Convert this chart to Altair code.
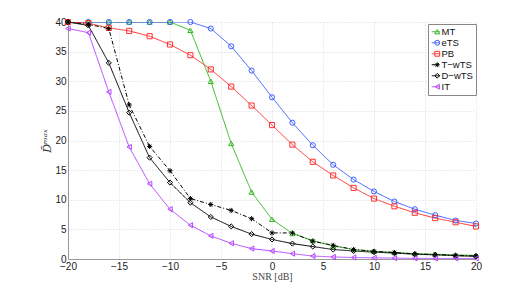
import altair as alt
import pandas as pd

snr = list(range(-20, 21, 2))
series_names = ["MT", "eTS", "PB", "T\u2212wTS", "D\u2212wTS", "IT"]
MT = [40, 40, 40, 40, 40, 40, 38.6, 30.0, 19.5, 11.3, 6.7, 4.3, 3.1, 2.2, 1.6, 1.3, 1.1, 0.9, 0.8, 0.7, 0.6]
eTS = [40, 40, 40, 40, 40, 40, 40, 38.9, 35.9, 31.8, 27.3, 23.0, 19.2, 15.9, 13.4, 11.4, 9.7, 8.4, 7.4, 6.5, 6.0]
PB = [40, 39.8, 39.0, 38.5, 37.6, 36.2, 34.4, 32.0, 29.1, 25.9, 22.6, 19.3, 16.4, 14.1, 12.0, 10.2, 8.9, 7.8, 6.9, 6.2, 5.5]
TwTS = [40, 39.6, 38.9, 26.0, 19.0, 14.9, 10.2, 9.2, 8.2, 6.8, 4.4, 4.4, 3.0, 2.3, 1.6, 1.3, 1.1, 0.85, 0.75, 0.6, 0.5]
DwTS = [40, 39.4, 33.1, 24.7, 17.1, 12.9, 9.5, 7.1, 5.5, 4.2, 3.3, 2.6, 2.1, 1.6, 1.35, 1.15, 1.0, 0.8, 0.7, 0.55, 0.45]
IT = [38.9, 38.2, 28.2, 18.9, 12.7, 8.4, 5.7, 3.9, 2.65, 1.75, 1.35, 0.9, 0.5, 0.35, 0.25, 0.2, 0.15, 0.1, 0.1, 0.1, 0.1]

colors = ["#33b822", "#3a5cff", "#ff3030", "#000000", "#000000", "#b444ff"]
asterisk = "M-1,0L1,0M0,-1L0,1M-0.7,-0.7L0.7,0.7M-0.7,0.7L0.7,-0.7"
shapes = ["triangle-up", "circle", "square", asterisk, "diamond", "triangle-left"]
dashes = [[1, 0], [1, 0], [1, 0], [4, 2, 1, 2], [1, 0], [1, 0]]
line_names = [n + " " for n in series_names]

rows = []
for name, lname, vals in zip(series_names, line_names, [MT, eTS, PB, TwTS, DwTS, IT]):
    for s, v in zip(snr, vals):
        rows.append({"snr": s, "D": v, "series": name, "name": lname})
df = pd.DataFrame(rows)

x = alt.X("snr:Q", scale=alt.Scale(domain=[-20, 20], nice=False),
          axis=alt.Axis(title="SNR [dB]", values=list(range(-20, 21, 5)),
                        titleFont="Liberation Serif", titleFontWeight="normal",
                        titleFontSize=10, titleColor="#444", titlePadding=0))
y = alt.Y("D:Q", scale=alt.Scale(domain=[0, 40], nice=False),
          axis=alt.Axis(title="D\u0304\u1d50\u1d43\u02e3", values=list(range(0, 41, 5)),
                        titleFont="DejaVu Serif", titleFontStyle="italic",
                        titleFontWeight="normal", titleFontSize=11, titleColor="#333",
                        titlePadding=2))

LX, LY = 360, 2

lines = alt.Chart(df).mark_line(strokeWidth=1, clip=True).encode(
    x=x, y=y,
    stroke=alt.Stroke("name:N", sort=line_names,
                      scale=alt.Scale(domain=line_names, range=colors),
                      legend=alt.Legend(title=None, orient="none", legendX=LX, legendY=LY,
                                        symbolType="stroke", symbolSize=64,
                                        symbolStrokeWidth=1, labelFontSize=9.5,
                                        labelFont="Liberation Sans", labelColor="#111",
                                        strokeColor="#888", fillColor="white",
                                        padding=3, rowPadding=0, labelOffset=1)),
    strokeDash=alt.StrokeDash("name:N", sort=line_names,
                              scale=alt.Scale(domain=line_names, range=dashes)),
)

points = alt.Chart(df).mark_point(filled=False, size=26, strokeWidth=1, opacity=1).encode(
    x=x, y=y,
    color=alt.Color("series:N", sort=series_names,
                    scale=alt.Scale(domain=series_names, range=colors),
                    legend=alt.Legend(title=None, orient="none", legendX=LX + 1.5, legendY=LY,
                                      symbolSize=24, symbolStrokeWidth=1,
                                      labelFontSize=9.5, labelExpr="''",
                                      padding=3, rowPadding=0, labelOffset=1)),
    shape=alt.Shape("series:N", sort=series_names,
                    scale=alt.Scale(domain=series_names, range=shapes)),
)

chart = alt.layer(lines, points).properties(
    width=408, height=237,
    autosize=alt.AutoSizeParams(type="none"),
    padding={"left": 60, "top": 14, "right": 42, "bottom": 23},
).configure_view(stroke=None).configure_axis(
    grid=True, gridDash=[1, 2], gridColor="#d8d8d8", gridOpacity=1,
    domainColor="#999", tickColor="#999", tickSize=0,
    labelFont="Liberation Sans", labelFontSize=10, labelColor="#222",
    labelPadding=2, labelFlush=False,
)

chart.save("out.html", embed_options={"renderer": "svg", "actions": False})
